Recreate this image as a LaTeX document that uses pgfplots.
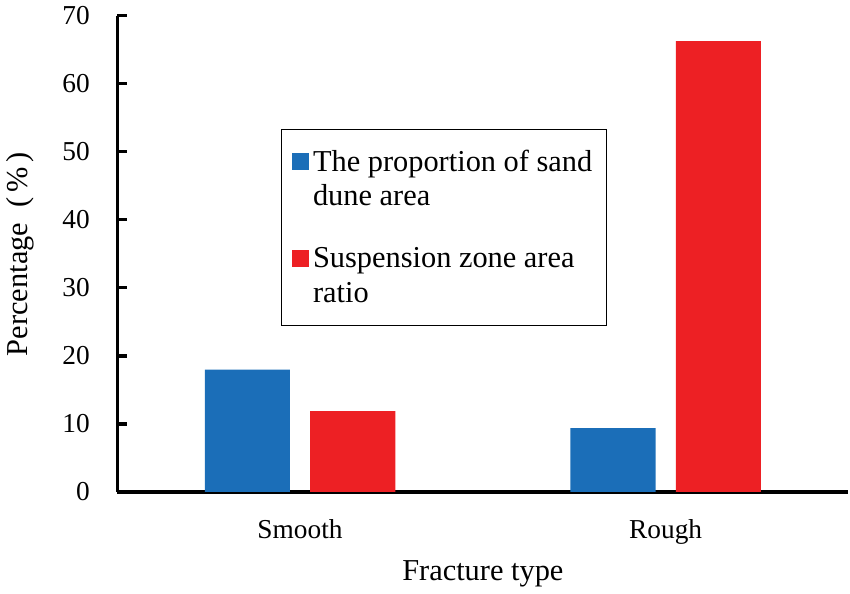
\documentclass[border=0pt]{standalone}
\usepackage{pgfplots}
\pgfplotsset{compat=1.18}
\usepackage{fontspec}
\setmainfont{Liberation Serif}
\definecolor{cblue}{RGB}{27,110,184}
\definecolor{cred}{RGB}{237,32,36}
\begin{document}
\begin{tikzpicture}[font=\rmfamily]
\begin{axis}[
    scale only axis,
    width=361pt, height=235pt,
    ybar=10pt, bar width=42pt,
    xmin=-0.5, xmax=1.5, ymin=0, ymax=70,
    xtick={0,1}, xticklabels={Smooth,Rough},
    ytick={0,10,20,30,40,50,60,70},
    yticklabels={0,10,20,30,40,50,60,70},
    axis x line=bottom, axis y line=left,
    axis line style={-, black, line width=1.5pt},
    xtick style={draw=none},
    ytick style={black, line width=1.5pt},
    major tick length=5pt,
    tick align=inside,
    tick label style={font=\rmfamily\fontsize{13.5}{15}\selectfont},
    yticklabel style={xshift=-10pt},
    xticklabel style={yshift=-10pt},
    label style={font=\rmfamily\fontsize{15}{17}\selectfont},
    xlabel={Fracture type},
    xlabel style={yshift=-1pt},
    ylabel={Percentage\enspace(\,\%\,)},
    ylabel style={yshift=7pt},
    legend cell align=left,
    legend image code/.code={\fill[#1] (0pt,4.5pt) rectangle (8.5pt,13pt);},
    legend style={at={(0.224,0.762)}, anchor=north west, draw=black, line width=0.6pt,
        font=\rmfamily\fontsize{15}{17}\selectfont, inner xsep=5pt, inner ysep=8pt,
        row sep=15pt, cells={align=left}},
]
\addplot[fill=cblue, draw=none] coordinates {(0,18.0) (1,9.4)};
\addlegendentry{The proportion of sand\\dune area}
\addplot[fill=cred, draw=none] coordinates {(0,11.9) (1,66.3)};
\addlegendentry{Suspension zone area\\ratio}
\end{axis}
\end{tikzpicture}
\end{document}
